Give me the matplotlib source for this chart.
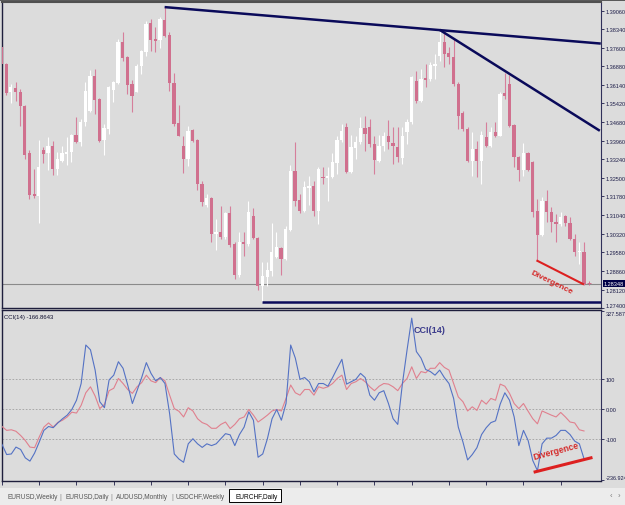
import matplotlib.pyplot as plt
import matplotlib.transforms as mtransforms
from matplotlib.patches import Rectangle
import numpy as np

plt.rcParams['font.family'] = ['Liberation Sans', 'DejaVu Sans']

# EURCHF, Daily (21 Jun 2010 - Dec 2010)
opens = [1.3765, 1.3698, 1.3588, 1.3604, 1.3588, 1.3533, 1.3349, 1.3188, 1.3180, 1.3360,
         1.3349, 1.3376, 1.3286, 1.3317, 1.3345, 1.3352, 1.3419, 1.3392, 1.3470, 1.3513,
         1.3651, 1.3561, 1.3400, 1.3443, 1.3596, 1.3623, 1.3784, 1.3725, 1.3619, 1.3588,
         1.3690, 1.3745, 1.3859, 1.3796, 1.3792, 1.3871, 1.3812, 1.3623, 1.3466, 1.3376,
         1.3325, 1.3439, 1.3400, 1.3227, 1.3144, 1.3172, 1.3031, 1.3038, 1.3019, 1.3113,
         1.2991, 1.2870, 1.2999, 1.2991, 1.3101, 1.3015, 1.2826, 1.2862, 1.2885, 1.2940,
         1.2976, 1.2932, 1.3046, 1.3278, 1.3164, 1.3121, 1.3211, 1.3219, 1.3121, 1.3254,
         1.3250, 1.3254, 1.3309, 1.3400, 1.3451, 1.3274, 1.3368, 1.3392, 1.3447, 1.3451,
         1.3384, 1.3317, 1.3376, 1.3415, 1.3388, 1.3372, 1.3329, 1.3431, 1.3470, 1.3631,
         1.3553, 1.3643, 1.3639, 1.3690, 1.3729, 1.3784, 1.3741, 1.3725, 1.3619, 1.3506,
         1.3443, 1.3317, 1.3364, 1.3317, 1.3411, 1.3376, 1.3431, 1.3415, 1.3584, 1.3619,
         1.3458, 1.3333, 1.3282, 1.3349, 1.3313, 1.3121, 1.3027, 1.3160, 1.3117, 1.3078,
         1.3070, 1.3101, 1.3074, 1.3011, 1.2960, 1.2960]
highs = [1.3776, 1.3702, 1.3619, 1.3627, 1.3600, 1.3535, 1.3360, 1.3286, 1.3400, 1.3372,
         1.3411, 1.3396, 1.3352, 1.3376, 1.3411, 1.3423, 1.3490, 1.3482, 1.3627, 1.3674,
         1.3678, 1.3564, 1.3462, 1.3610, 1.3631, 1.3796, 1.3824, 1.3729, 1.3635, 1.3698,
         1.3750, 1.3867, 1.3875, 1.3843, 1.3882, 1.3920, 1.3824, 1.3663, 1.3537, 1.3415,
         1.3455, 1.3443, 1.3404, 1.3239, 1.3188, 1.3176, 1.3089, 1.3140, 1.3117, 1.3140,
         1.2999, 1.3038, 1.3038, 1.3160, 1.3133, 1.3019, 1.2920, 1.2920, 1.3074, 1.3038,
         1.2979, 1.3062, 1.3301, 1.3392, 1.3188, 1.3239, 1.3258, 1.3239, 1.3294, 1.3294,
         1.3294, 1.3349, 1.3415, 1.3462, 1.3466, 1.3419, 1.3415, 1.3490, 1.3494, 1.3482,
         1.3415, 1.3419, 1.3431, 1.3478, 1.3451, 1.3451, 1.3451, 1.3482, 1.3651, 1.3670,
         1.3678, 1.3698, 1.3706, 1.3737, 1.3831, 1.3827, 1.3765, 1.3796, 1.3627, 1.3513,
         1.3451, 1.3431, 1.3396, 1.3435, 1.3470, 1.3451, 1.3470, 1.3588, 1.3663, 1.3655,
         1.3462, 1.3337, 1.3388, 1.3352, 1.3317, 1.3168, 1.3176, 1.3203, 1.3136, 1.3109,
         1.3117, 1.3105, 1.3097, 1.3031, 1.2999, 1.2999]
lows = [1.3686, 1.3576, 1.3545, 1.3553, 1.3455, 1.3325, 1.3168, 1.3172, 1.3074, 1.3309,
        1.3282, 1.3262, 1.3262, 1.3313, 1.3301, 1.3313, 1.3388, 1.3376, 1.3455, 1.3509,
        1.3502, 1.3392, 1.3341, 1.3423, 1.3549, 1.3619, 1.3710, 1.3580, 1.3509, 1.3586,
        1.3659, 1.3729, 1.3749, 1.3745, 1.3761, 1.3804, 1.3592, 1.3455, 1.3414, 1.3270,
        1.3297, 1.3392, 1.3203, 1.3140, 1.3136, 1.2999, 1.2968, 1.3011, 1.3011, 1.2979,
        1.2854, 1.2862, 1.2944, 1.2983, 1.3011, 1.2811, 1.2765, 1.2826, 1.2866, 1.2936,
        1.2870, 1.2928, 1.3042, 1.3140, 1.3113, 1.3117, 1.3144, 1.3101, 1.3070, 1.3227,
        1.3160, 1.3250, 1.3266, 1.3392, 1.3270, 1.3270, 1.3325, 1.3384, 1.3356, 1.3372,
        1.3266, 1.3313, 1.3356, 1.3364, 1.3305, 1.3313, 1.3305, 1.3384, 1.3462, 1.3545,
        1.3549, 1.3608, 1.3631, 1.3639, 1.3710, 1.3686, 1.3698, 1.3612, 1.3443, 1.3435,
        1.3313, 1.3258, 1.3254, 1.3227, 1.3372, 1.3372, 1.3411, 1.3413, 1.3561, 1.3451,
        1.3294, 1.3239, 1.3258, 1.3278, 1.3097, 1.2928, 1.3023, 1.3078, 1.3038, 1.2999,
        1.3062, 1.3062, 1.3007, 1.2944, 1.2913, 1.2830]
closes = [1.3698, 1.3584, 1.3608, 1.3588, 1.3533, 1.3341, 1.3184, 1.3180, 1.3294, 1.3345,
          1.3376, 1.3286, 1.3325, 1.3349, 1.3352, 1.3419, 1.3392, 1.3470, 1.3592, 1.3651,
          1.3557, 1.3396, 1.3447, 1.3608, 1.3627, 1.3784, 1.3722, 1.3615, 1.3572, 1.3690,
          1.3749, 1.3855, 1.3792, 1.3788, 1.3875, 1.3808, 1.3623, 1.3462, 1.3415, 1.3325,
          1.3435, 1.3396, 1.3227, 1.3156, 1.3172, 1.3031, 1.3038, 1.3019, 1.3113, 1.2987,
          1.2870, 1.2999, 1.2991, 1.3117, 1.3015, 1.2826, 1.2866, 1.2889, 1.2960, 1.2979,
          1.2932, 1.3050, 1.3278, 1.3160, 1.3121, 1.3215, 1.3219, 1.3121, 1.3286, 1.3250,
          1.3258, 1.3313, 1.3400, 1.3435, 1.3274, 1.3372, 1.3392, 1.3447, 1.3423, 1.3384,
          1.3321, 1.3376, 1.3415, 1.3392, 1.3376, 1.3333, 1.3415, 1.3470, 1.3647, 1.3553,
          1.3639, 1.3635, 1.3694, 1.3698, 1.3784, 1.3737, 1.3725, 1.3619, 1.3494, 1.3443,
          1.3317, 1.3364, 1.3317, 1.3419, 1.3376, 1.3431, 1.3415, 1.3580, 1.3572, 1.3455,
          1.3333, 1.3282, 1.3349, 1.3282, 1.3117, 1.3027, 1.3160, 1.3117, 1.3078, 1.3070,
          1.3097, 1.3074, 1.3011, 1.2960, 1.2964, 1.28348]

# CCI(14) (blue) and the slower red CCI line
cci_fast = [-119, -153, -151, -128, -136, -164, -175, -148, -111, -72,
            -59, -63, -47, -33, -21, -2, 29, 85, 214, 198,
            130, 24, 4, 97, 113, 158, 136, 80, 18, 61,
            105, 155, 119, 94, 105, 85, -16, -151, -168, -179,
            -117, -100, -117, -129, -117, -123, -117, -100, -83, -87,
            -123, -86, -61, -10, -38, -162, -151, -100, -33, -2,
            -38, 18, 214, 170, 99, 105, 91, 57, 85, 85,
            76, 105, 136, 166, 83, 91, 99, 119, 105, 46,
            29, 54, 61, 18, -33, -52, 85, 198, 304, 192,
            170, 132, 125, 113, 130, 105, 85, 35, -61, -111,
            -171, -153, -130, -86, -63, -46, -40, 16, 54, 29,
            -27, -123, -72, -106, -173, -207, -117, -98, -98, -89,
            -72, -72, -86, -108, -117, -166.8643]
cci_slow = [-59, -72, -70, -75, -89, -106, -128, -130, -94, -61,
            -47, -61, -45, -38, -27, -11, -14, 12, 54, 74,
            43, 1, 15, 61, 69, 102, 85, 65, 52, 74,
            88, 113, 94, 88, 105, 94, 46, 1, -8, -27,
            4, -7, -33, -46, -52, -65, -65, -52, -44, -66,
            -52, -33, -27, -2, -21, -44, -33, -21, -7, -2,
            -7, 35, 80, 54, 46, 65, 65, 46, 74, 69,
            74, 85, 102, 113, 65, 85, 91, 102, 91, 74,
            61, 76, 85, 83, 74, 61, 85, 102, 141, 102,
            125, 121, 136, 136, 155, 139, 130, 85, 40, 24,
            -7, 7, -5, 29, 16, 35, 29, 83, 76, 52,
            18, 1, 18, -8, -33, -50, -7, -14, -21, -27,
            -12, -27, -44, -47, -70, -74]

date_labels = ['21 Jun 2010', '1 Jul 2010', '14 Jul 2010', '26 Jul 2010', '5 Aug 2010',
               '17 Aug 2010', '27 Aug 2010', '8 Sep 2010', '20 Sep 2010', '30 Sep 2010',
               '12 Oct 2010', '22 Oct 2010', '3 Nov 2010', '15 Nov 2010', '25 Nov 2010',
               '7 Dec 2010']
date_step = 8

price_ticks = [1.39060, 1.38340, 1.37600, 1.36880, 1.36140, 1.35420, 1.34680, 1.33960,
               1.33240, 1.32500, 1.31780, 1.31040, 1.30320, 1.29580, 1.28860, 1.28120,
               1.27400]
last_price = 1.28348
cci_ticks = [327.5874, 100, 0, -100, -236.924]
cci_tick_labels = ['327.5874', '100', '0.00', '-100', '-236.924']
cci_levels = [100, 0, -100]

# hand drawn objects: (bar index, value)
resist_line = [(35, 1.3920), (128.6, 1.3777)]
down_line = [(94, 1.3831), (128.4, 1.3435)]
support_line = [(56, 1.2762), (128.7, 1.2762)]
div_price = [(115, 1.2925), (124.8, 1.2834)]
div_cci = [(114.5, -211), (126.5, -164)]

tabs = ['EURUSD,Weekly', 'EURUSD,Daily', 'AUDUSD,Monthly', 'USDCHF,Weekly', 'EURCHF,Daily']

W, H = 625, 506
bg = '#dcdcdc'
pink = '#d0708e'
navy = '#0a0a5a'
axis_txt = '#1c1c48'

fig = plt.figure(figsize=(W / 100, H / 100), dpi=100, facecolor=bg)
ax1 = fig.add_axes([2 / W, 1 - 309 / H, 599 / W, 306 / H], facecolor=bg)
ax2 = fig.add_axes([2 / W, 1 - 482 / H, 599 / W, 171 / H], facecolor=bg)

# candles
o, h, l, c = map(np.array, (opens, highs, lows, closes))
x = np.arange(len(o))
up = c >= o
body_colors = np.where(up, 'white', pink)
wick_colors = np.where(up, 'white', '#d67f9b')
ax1.vlines(x, l, h, colors=wick_colors, lw=0.8, zorder=2)
ax1.bar(x, np.maximum(np.abs(c - o), 0.0004), bottom=np.minimum(o, c), width=0.7,
        color=body_colors, linewidth=0, zorder=3)

ax1.axhline(last_price, color='#8a8a8a', lw=0.8, zorder=1)
ax1.plot(len(o), last_price + 0.0003, marker='+', ms=3, mew=0.7, color=pink, zorder=4)

for line in (resist_line, down_line, support_line):
    (x0, y0), (x1, y1) = line
    ax1.plot([x0, x1], [y0, y1], color=navy, lw=1.8, solid_capstyle='butt', zorder=5)
(x0, y0), (x1, y1) = div_price
ax1.plot([x0, x1], [y0, y1], color='#dd2020', lw=1.5, zorder=5)
ax1.text(118.1, 1.2841, 'Divergence', color='#d42828', fontsize=6, fontweight='bold',
         rotation=-26, ha='center', va='center', rotation_mode='anchor', zorder=6)

ax1.set_xlim(0.1, 128.65)
ax1.set_ylim(1.27400, 1.39400)
ax1.set_xticks([])
ax1.yaxis.tick_right()
ax1.set_yticks(price_ticks)
ax1.set_yticklabels([f'{t:.5f}' for t in price_ticks])
ax1.tick_params(axis='y', length=2.5, width=0.6, color=axis_txt, labelsize=4.0,
                labelcolor=axis_txt, pad=1)
ax1.get_yticklabels()[-1].set_va('bottom')
tr = mtransforms.blended_transform_factory(ax1.transAxes, ax1.transData)
ax1.text(1.005, last_price, f'{last_price:.5f}', transform=tr, fontsize=4.0, color='white',
         ha='left', va='center', zorder=10,
         bbox=dict(boxstyle='square,pad=0.15', fc='#000046', ec='none'))

# CCI window
ax2.plot(x, cci_slow, color='#e0808e', lw=0.8, zorder=3)
ax2.plot(x, cci_fast, color='#5472c4', lw=0.8, zorder=4)
for lv in cci_levels:
    ax2.axhline(lv, color='#a0a0a0', lw=0.6, ls=(0, (2, 2)), zorder=1)
(x0, y0), (x1, y1) = div_cci
ax2.plot([x0, x1], [y0, y1], color='#dd2020', lw=2.2, zorder=5)
ax2.text(118.9, -140, 'Divergence', color='#d42828', fontsize=6.2, fontweight='bold',
         rotation=15, ha='center', va='center', rotation_mode='anchor', zorder=6)
ax2.text(88.3, 267, 'CCI(14)', color='#3c3c8c', fontsize=6.5, fontweight='bold',
         ha='left', va='center')
ax2.text(0.003, 0.96, f'CCI(14) {cci_fast[-1]:.4f}', transform=ax2.transAxes,
         fontsize=4.3, color='#101030', ha='left', va='center')

ax2.set_xlim(0.1, 128.65)
ax2.set_ylim(-241.6, 331.3)
ax2.yaxis.tick_right()
ax2.set_yticks(cci_ticks)
ax2.set_yticklabels(cci_tick_labels)
ax2.tick_params(axis='y', length=2.5, width=0.6, color=axis_txt, labelsize=4.0,
                labelcolor=axis_txt, pad=1)
ax2.get_yticklabels()[0].set_va('top')
ax2.get_yticklabels()[-1].set_va('bottom')
ax2.set_xticks(np.arange(len(date_labels)) * date_step)
ax2.set_xticklabels(date_labels)
for lab in ax2.get_xticklabels():
    lab.set_ha('left')
ax2.tick_params(axis='x', length=3, width=0.6, color=axis_txt, labelsize=4.4,
                labelcolor=axis_txt, pad=1)

for ax in (ax1, ax2):
    for side in ('left', 'top', 'bottom'):
        ax.spines[side].set_color('#1e1e3c')
        ax.spines[side].set_linewidth(1)
    ax.spines['right'].set_color('#30305a')
    ax.spines['right'].set_linewidth(0.8)
ax1.spines['top'].set_color('#505050')
ax1.spines['top'].set_linewidth(1.5)

# window frame top
fig.patches.append(Rectangle((0, 1 - 2 / H), 1, 2 / H, transform=fig.transFigure,
                             fc='#5a5a5a', ec='none'))

# tab bar
fig.patches.append(Rectangle((0, 0), 1, 17 / H, transform=fig.transFigure,
                             fc='#ececec', ec='none', zorder=0))
fig.patches.append(Rectangle((229 / W, 1 - 503 / H), 52 / W, 13 / H, transform=fig.transFigure,
                             fc='white', ec='black', lw=0.7, zorder=1))
tab_x = [7, 65, 116, 176, 235]
for i, (tx, name) in enumerate(zip(tab_x, tabs)):
    active = i == len(tabs) - 1
    fig.text(tx / W, 1 - 497.5 / H, name, fontsize=4.7, ha='left', va='center',
             color='black' if active else '#555555', zorder=2)
for sx in [60, 111, 172]:
    fig.text(sx / W, 1 - 497.5 / H, '|', fontsize=5.5, ha='center', va='center', color='#888888')
fig.text(611 / W, 1 - 497 / H, '‹', fontsize=5.5, ha='center', va='center', color='#777777')
fig.text(619 / W, 1 - 497 / H, '›', fontsize=5.5, ha='center', va='center', color='#777777')

fig.savefig('out.png', dpi=100, facecolor=bg)
